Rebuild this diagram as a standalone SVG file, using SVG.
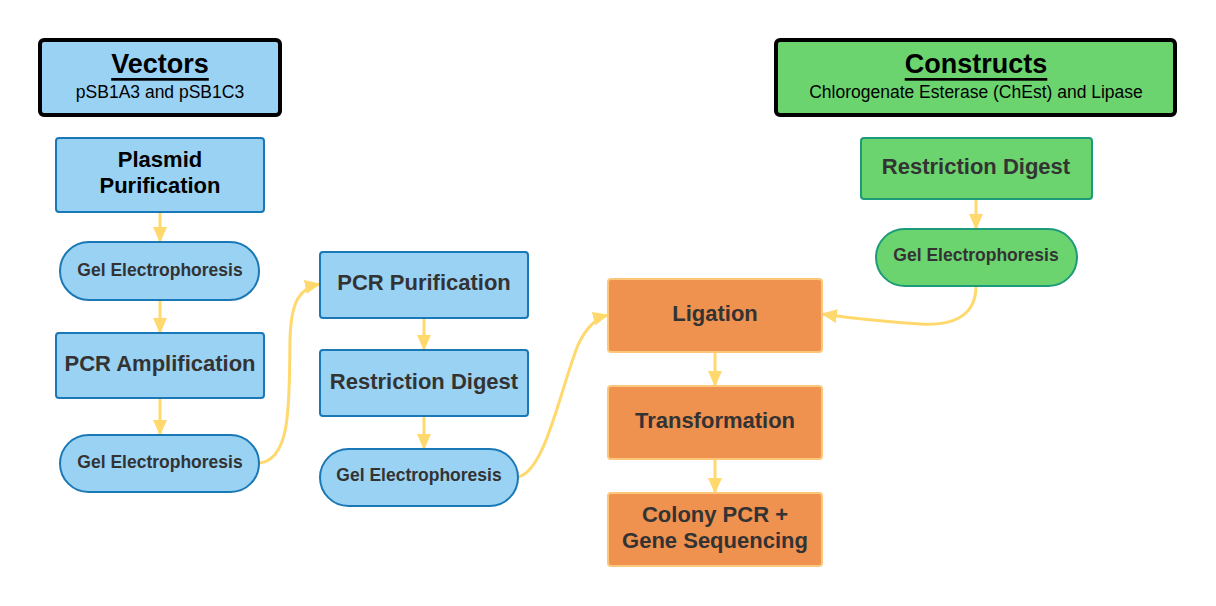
<svg xmlns="http://www.w3.org/2000/svg" width="1216" height="606" viewBox="0 0 1216 606">
<style>
text{font-family:"Liberation Sans",Arial,sans-serif;text-anchor:middle;dominant-baseline:central}
.hdr{stroke:#000;stroke-width:4}
.blue{fill:#9ad2f3;stroke:#1b78b6;stroke-width:2}
.green{fill:#6bd46e;stroke:#1c9a7a;stroke-width:2}
.orange{fill:#ef914f;stroke:#fcc77a;stroke-width:2}
.t20{font-size:22px;font-weight:bold;fill:#333}
.t16{font-size:17.5px;font-weight:bold;fill:#333}
.ttl{font-size:27px;font-weight:bold;fill:#000;text-decoration:underline}
.sub{font-size:17.5px;fill:#000}
.c{fill:none;stroke:#ffd96e;stroke-width:3}
</style>
<defs>
<marker id="ah" viewBox="0 0 16 14" refX="15" refY="7" markerWidth="16" markerHeight="14" markerUnits="userSpaceOnUse" orient="auto">
<path d="M0,0 L16,7 L0,14 Z" fill="#ffd96e"/>
</marker>
</defs>
<rect width="1216" height="606" fill="#fff"/>
<g id="connectors">
<path class="c" d="M160,212 L160,242" marker-end="url(#ah)"/>
<path class="c" d="M160,300 L160,333" marker-end="url(#ah)"/>
<path class="c" d="M160,398 L160,435" marker-end="url(#ah)"/>
<path class="c" d="M259,463 C292,460 289,400 290,340 C291,300 300,288 320,284" marker-end="url(#ah)"/>
<path class="c" d="M424,318 L424,350" marker-end="url(#ah)"/>
<path class="c" d="M424,416 L424,449" marker-end="url(#ah)"/>
<path class="c" d="M518,477 C545,472 560,390 578,345 C586,328 596,318 608,315" marker-end="url(#ah)"/>
<path class="c" d="M715,352 L715,386" marker-end="url(#ah)"/>
<path class="c" d="M715,459 L715,493" marker-end="url(#ah)"/>
<path class="c" d="M976,199 L976,229" marker-end="url(#ah)"/>
<path class="c" d="M976,286 C976,318 950,326 920,324 C890,322 850,318 822,314" marker-end="url(#ah)"/>
</g>
<g id="vectors">
<rect class="hdr" x="40" y="40" width="240" height="75" rx="4" fill="#9ad2f3"/>
<text class="ttl" x="160" y="64">Vectors</text>
<text class="sub" x="160" y="92">pSB1A3 and pSB1C3</text>
</g>
<g id="constructs">
<rect class="hdr" x="776" y="40" width="399" height="75" rx="4" fill="#6bd46e"/>
<text class="ttl" x="976" y="64">Constructs</text>
<text class="sub" x="976" y="92">Chlorogenate Esterase (ChEst) and Lipase</text>
</g>
<g id="plasmid-purification">
<rect class="blue" x="56" y="138" width="208" height="74" rx="3"/>
<text class="t20" x="160" y="159" style="fill:#000">Plasmid</text>
<text class="t20" x="160" y="185" style="fill:#000">Purification</text>
</g>
<g id="gel1">
<rect class="blue" x="60" y="242" width="199" height="58" rx="29"/>
<text class="t16" x="160" y="270">Gel Electrophoresis</text>
</g>
<g id="pcr-amplification">
<rect class="blue" x="56" y="333" width="208" height="65" rx="3"/>
<text class="t20" x="160" y="363">PCR Amplification</text>
</g>
<g id="gel2">
<rect class="blue" x="60" y="435" width="199" height="57" rx="28.5"/>
<text class="t16" x="160" y="462">Gel Electrophoresis</text>
</g>
<g id="pcr-purification">
<rect class="blue" x="320" y="252" width="208" height="66" rx="3"/>
<text class="t20" x="424" y="282">PCR Purification</text>
</g>
<g id="restriction-digest-blue">
<rect class="blue" x="320" y="350" width="208" height="66" rx="3"/>
<text class="t20" x="424" y="381">Restriction Digest</text>
</g>
<g id="gel3">
<rect class="blue" x="320" y="449" width="198" height="57" rx="28.5"/>
<text class="t16" x="419" y="475">Gel Electrophoresis</text>
</g>
<g id="ligation">
<rect class="orange" x="608" y="279" width="214" height="73" rx="3"/>
<text class="t20" x="715" y="313">Ligation</text>
</g>
<g id="transformation">
<rect class="orange" x="608" y="386" width="214" height="73" rx="3"/>
<text class="t20" x="715" y="420">Transformation</text>
</g>
<g id="colony-pcr">
<rect class="orange" x="608" y="493" width="214" height="73" rx="3"/>
<text class="t20" x="715" y="514">Colony PCR +</text>
<text class="t20" x="715" y="540">Gene Sequencing</text>
</g>
<g id="restriction-digest-green">
<rect class="green" x="861" y="138" width="231" height="61" rx="3"/>
<text class="t20" x="976" y="166">Restriction Digest</text>
</g>
<g id="gel-green">
<rect class="green" x="876" y="229" width="201" height="57" rx="28.5"/>
<text class="t16" x="976" y="255">Gel Electrophoresis</text>
</g>
</svg>
